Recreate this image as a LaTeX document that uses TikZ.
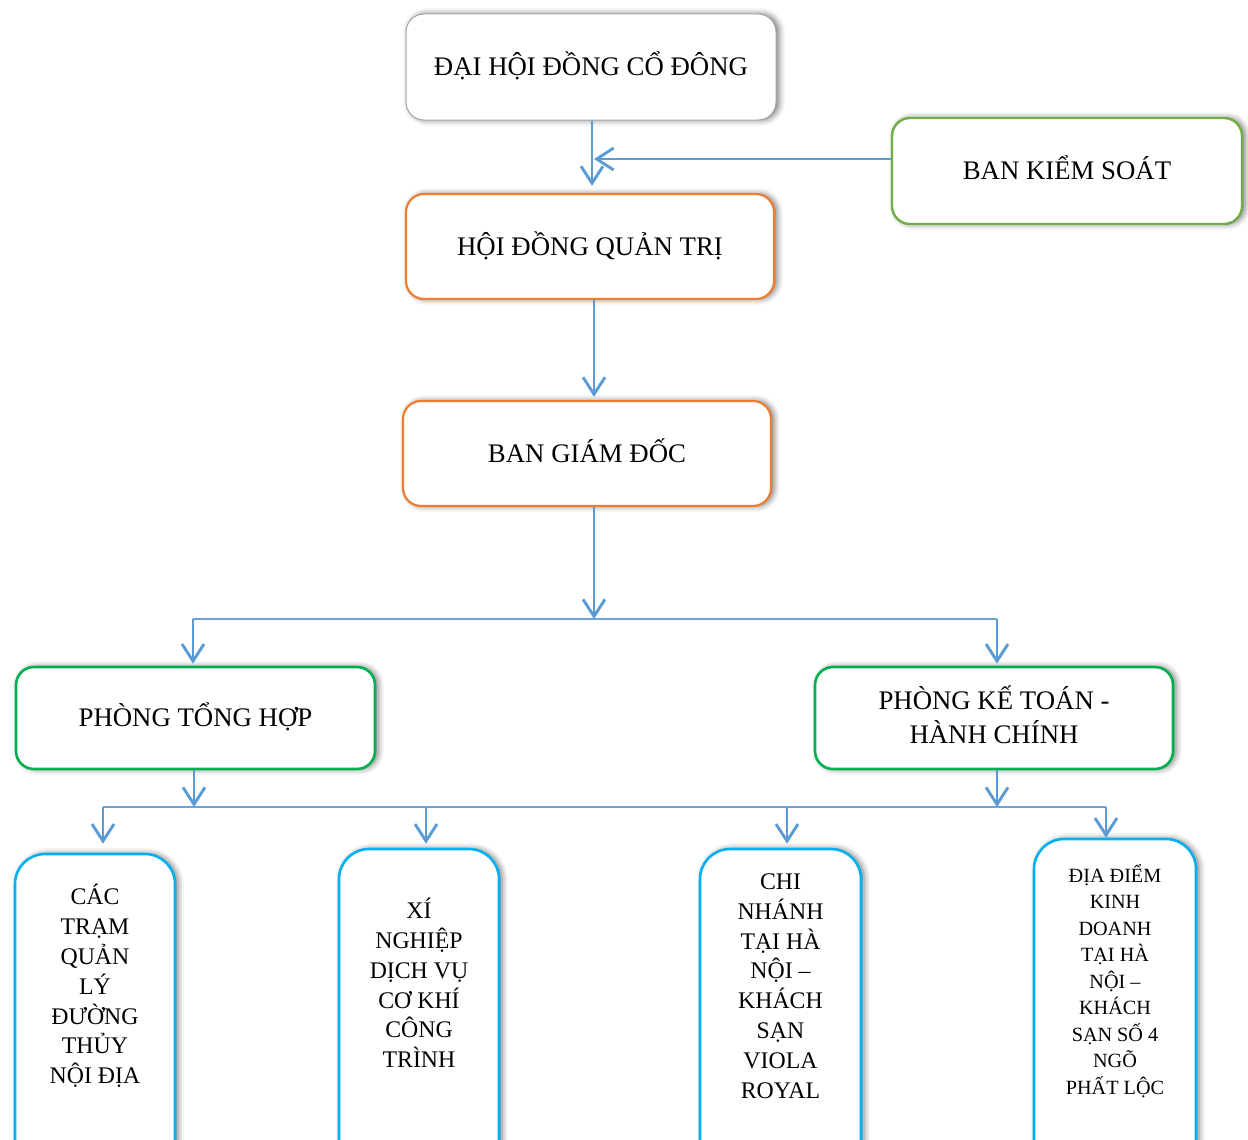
\documentclass[tikz,border=0pt]{standalone}
\usepackage{fontspec}
\setmainfont{Liberation Serif}
\usetikzlibrary{arrows.meta,shadows.blur,calc}
\definecolor{lineblue}{HTML}{5B9BD5}
\definecolor{branchblue}{HTML}{6FA3D8}
\definecolor{orangec}{HTML}{ED7D31}
\definecolor{greenA}{HTML}{70AD47}
\definecolor{greenB}{HTML}{00B050}
\definecolor{cyanc}{HTML}{00B0F0}
\definecolor{grayc}{HTML}{A6A6A6}
\tikzset{
  box/.style={rectangle, rounded corners=18pt, fill=white, align=center, inner sep=0pt,
    font=\fontsize{26.8}{34}\selectfont, text depth=6pt,
    blur shadow={shadow xshift=3pt, shadow yshift=0pt, shadow blur radius=6pt, shadow opacity=55}},
  graybox/.style={box, draw=grayc, line width=1pt},
  orangebox/.style={box, draw=orangec, line width=2.2pt},
  greenAbox/.style={box, draw=greenA, line width=2.4pt},
  greenBbox/.style={box, draw=greenB, line width=2.6pt},
  cyanbox/.style={box, draw=cyanc, line width=2.6pt, rounded corners=30pt},
  btext/.style={align=center, inner sep=0pt, font=\fontsize{23.8}{29.8}\selectfont},
  stext/.style={align=center, inner sep=0pt, font=\fontsize{20.2}{26.5}\selectfont},
  arr/.style={draw=lineblue, line width=2.9pt,
    -{Straight Barb[length=17pt,width=22pt,line width=2.9pt]}},
  branch/.style={draw=branchblue, line width=1.7pt}
}
\begin{document}
\begin{tikzpicture}[x=1pt,y=-1pt]
\useasboundingbox (0,0) rectangle (1248,1140);
\clip (0,0) rectangle (1248,1140);
% top level boxes
\node[graybox, minimum width=370pt, minimum height=106pt] (dh) at (591,67) {ĐẠI HỘI ĐỒNG CỔ ĐÔNG};
\node[greenAbox, minimum width=350pt, minimum height=106pt] (bks) at (1067,171) {BAN KIỂM SOÁT};
\node[orangebox, minimum width=368pt, minimum height=105pt] (hd) at (590,246.5) {HỘI ĐỒNG QUẢN TRỊ};
\node[orangebox, minimum width=368pt, minimum height=105pt] (bgd) at (587,453.5) {BAN GIÁM ĐỐC};
\node[greenBbox, minimum width=359pt, minimum height=102pt] (pth) at (195.5,718) {PHÒNG TỔNG HỢP};
\node[greenBbox, minimum width=358pt, minimum height=102pt] (pkt) at (994,718) {PHÒNG KẾ TOÁN -\\HÀNH CHÍNH};
% bottom boxes
\node[cyanbox, minimum width=160pt, minimum height=316pt] (b1) at (95,1012) {};
\node[cyanbox, minimum width=160pt, minimum height=321pt] (b2) at (419,1009.5) {};
\node[cyanbox, minimum width=161pt, minimum height=321pt] (b3) at (780.5,1009.5) {};
\node[cyanbox, minimum width=162pt, minimum height=331pt] (b4) at (1115,1004.5) {};
\node[btext] (t1) at (95,986) {CÁC\\TRẠM\\QUẢN\\LÝ\\ĐƯỜNG\\THỦY\\NỘI ĐỊA};
\node[btext] (t2) at (419,983) {XÍ\\NGHIỆP\\DỊCH VỤ\\CƠ KHÍ\\CÔNG\\TRÌNH};
\node[btext] (t3) at (780.5,986) {CHI\\NHÁNH\\TẠI HÀ\\NỘI –\\KHÁCH\\SẠN\\VIOLA\\ROYAL};
\node[stext] (t4) at (1115,981) {ĐỊA ĐIỂM\\KINH\\DOANH\\TẠI HÀ\\NỘI –\\KHÁCH\\SẠN SỐ 4\\NGÕ\\PHẤT LỘC};
% junction coordinates
\coordinate (m) at (592,159);
\coordinate (j1) at (594,619);
\coordinate (j2) at (194,807);
\coordinate (d1) at (103,807);
\coordinate (d2) at (426,807);
\coordinate (d3) at (787,807);
\coordinate (d4) at (1106,807);
\coordinate (p1) at (193,619);
\coordinate (p2) at (997,619);
\coordinate (q2) at (997,807);
% connectors
\draw[arr, shorten >=7pt] ([xshift=1pt]dh.south) -- ([xshift=1pt]dh.south |- hd.north);
\draw[arr] (bks.west |- m) -- ([xshift=2pt]m);
\draw[arr, shorten >=3pt] ([xshift=4pt]hd.south) -- ([xshift=4pt]hd.south |- bgd.north);
\draw[branch] (p1) -- (p2);
\draw[arr] (bgd.south -| j1) -- (j1);
\draw[arr, shorten >=2pt] (p1) -- (p1 |- pth.north);
\draw[arr, shorten >=2pt] (p2) -- (p2 |- pkt.north);
\draw[branch] (d1) -- (d4);
\draw[arr] (pth.south -| j2) -- (j2);
\draw[arr] (pkt.south -| q2) -- (q2);
\draw[arr, shorten >=9pt] (d1) -- (d1 |- b1.north);
\draw[arr, shorten >=4pt] (d2) -- (d2 |- b2.north);
\draw[arr, shorten >=4pt] (d3) -- (d3 |- b3.north);
\draw[arr, shorten >=0pt] (d4) -- (d4 |- b4.north);
\end{tikzpicture}
\end{document}
